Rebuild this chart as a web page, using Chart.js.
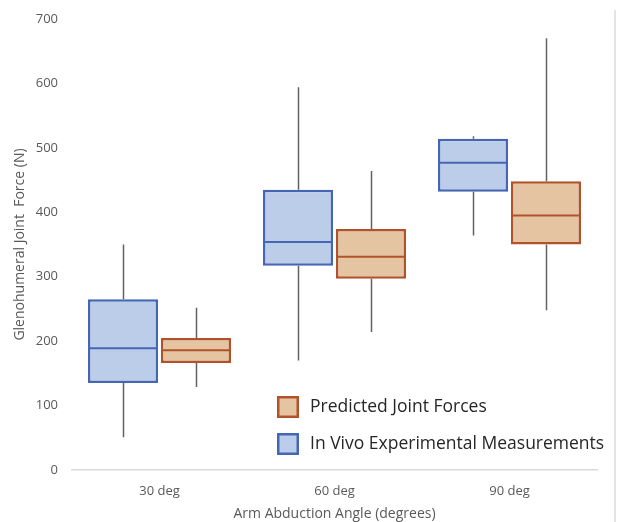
<!DOCTYPE html>
<html>
<head>
<meta charset="utf-8">
<script src="https://cdn.jsdelivr.net/npm/chart.js@4"></script>
<style>
  html, body { margin: 0; padding: 0; background: #fff; }
  #wrap { position: relative; width: 617px; height: 522px; }
  #edge { position: absolute; left: 614px; top: 10px; width: 2px; height: 512px; background: #e4e4e4; }
</style>
</head>
<body>
<div id="wrap">
  <canvas id="c" width="617" height="522"></canvas>
  <div id="edge"></div>
</div>
<script>
const categories = ['30 deg', '60 deg', '90 deg'];
const yTicks = [0, 100, 200, 300, 400, 500, 600, 700];

const inVivoLabel = 'In Vivo Experimental Measurements';
const inVivoMin    = [51, 170, 364];
const inVivoQ1     = [135, 317, 432];
const inVivoMedian = [189, 354, 477];
const inVivoQ3     = [265, 435, 514];
const inVivoMax    = [350, 594, 518];

const predLabel = 'Predicted Joint Forces';
const predMin    = [129, 214, 248];
const predQ1     = [166, 297, 350];
const predMedian = [186, 331, 395];
const predQ3     = [205, 374, 448];
const predMax    = [252, 464, 670];

const FONT = '"Open Sans", "Noto Sans", sans-serif';
const blueFill = '#bccde9', blueLine = '#4466b4';
const orangeFill = '#e5c4a1', orangeLine = '#b0532a';

const stats = [
  { min: inVivoMin, q1: inVivoQ1, med: inVivoMedian, q3: inVivoQ3, max: inVivoMax },
  { min: predMin, q1: predQ1, med: predMedian, q3: predQ3, max: predMax }
];

const boxPlugin = {
  id: 'boxParts',
  afterDatasetsDraw(chart) {
    const ctx = chart.ctx;
    const y = chart.scales.y;
    chart.data.datasets.forEach((ds, di) => {
      const meta = chart.getDatasetMeta(di);
      const s = stats[di];
      meta.data.forEach((bar, i) => {
        const props = bar.getProps(['x', 'width'], true);
        const cx = Math.round(props.x) + 0.5;
        const half = props.width / 2;
        ctx.save();
        ctx.strokeStyle = '#626262';
        ctx.lineWidth = 1.5;
        ctx.beginPath();
        ctx.moveTo(cx, y.getPixelForValue(s.q3[i]));
        ctx.lineTo(cx, y.getPixelForValue(s.max[i]));
        ctx.moveTo(cx, y.getPixelForValue(s.q1[i]));
        ctx.lineTo(cx, y.getPixelForValue(s.min[i]));
        ctx.stroke();
        ctx.strokeStyle = ds.borderColor;
        ctx.lineWidth = 2;
        const my = y.getPixelForValue(s.med[i]);
        ctx.beginPath();
        ctx.moveTo(props.x - half + 1, my);
        ctx.lineTo(props.x + half - 1, my);
        ctx.stroke();
        ctx.restore();
      });
    });
  }
};

const legendPlugin = {
  id: 'insideLegend',
  afterDraw(chart) {
    const ctx = chart.ctx;
    const a = chart.chartArea;
    const x0 = a.left + 205;
    const ys = [a.bottom - 74, a.bottom - 37];
    const order = [1, 0];
    ctx.save();
    order.forEach((di, k) => {
      const ds = chart.data.datasets[di];
      const top = ys[k];
      ctx.fillStyle = ds.backgroundColor;
      ctx.fillRect(x0, top, 22, 22);
      ctx.strokeStyle = ds.borderColor;
      ctx.lineWidth = 2.5;
      ctx.strokeRect(x0 + 1.25, top + 1.25, 19.5, 19.5);
      ctx.fillStyle = '#262626';
      ctx.font = '17.5px ' + FONT;
      ctx.textBaseline = 'middle';
      ctx.textAlign = 'left';
      ctx.fillText(ds.label, x0 + 33, top + 11);
    });
    ctx.restore();
  }
};

const floating = (lo, hi) => lo.map((v, i) => [v, hi[i]]);

new Chart(document.getElementById('c'), {
  type: 'bar',
  data: {
    labels: categories,
    datasets: [
      {
        label: inVivoLabel,
        data: floating(inVivoQ1, inVivoQ3),
        backgroundColor: blueFill,
        borderColor: blueLine,
        borderWidth: 2.5,
        borderSkipped: false,
        categoryPercentage: 0.834,
        barPercentage: 0.96
      },
      {
        label: predLabel,
        data: floating(predQ1, predQ3),
        backgroundColor: orangeFill,
        borderColor: orangeLine,
        borderWidth: 2.5,
        borderSkipped: false,
        categoryPercentage: 0.834,
        barPercentage: 0.96
      }
    ]
  },
  options: {
    responsive: false,
    animation: false,
    devicePixelRatio: 1,
    layout: { padding: { top: 19, right: 20, left: 0, bottom: 0 } },
    plugins: {
      legend: { display: false },
      tooltip: { enabled: false }
    },
    scales: {
      x: {
        grid: { display: false, drawTicks: false },
        border: { display: true, color: '#d9d9d9', width: 1.5 },
        ticks: { color: '#595959', font: { family: FONT, size: 13 }, padding: 13 },
        title: {
          display: true,
          text: 'Arm Abduction Angle (degrees)',
          color: '#595959',
          font: { family: FONT, size: 14 },
          padding: { top: 0, bottom: 0 }
        },
        afterFit(s) { s.height = 52; }
      },
      y: {
        min: 0,
        max: 700,
        afterBuildTicks(s) { s.ticks = yTicks.map(v => ({ value: v })); },
        grid: { display: false, drawTicks: false },
        border: { display: false },
        ticks: { color: '#595959', font: { family: FONT, size: 13 }, padding: 14 },
        title: {
          display: true,
          text: 'Glenohumeral Joint  Force (N)',
          color: '#595959',
          font: { family: FONT, size: 14 },
          padding: { top: 12, bottom: 0 }
        },
        afterFit(s) { s.width = 72; s.paddingTop = 0; s.paddingBottom = 0; }
      }
    }
  },
  plugins: [boxPlugin, legendPlugin]
});
</script>
</body>
</html>
